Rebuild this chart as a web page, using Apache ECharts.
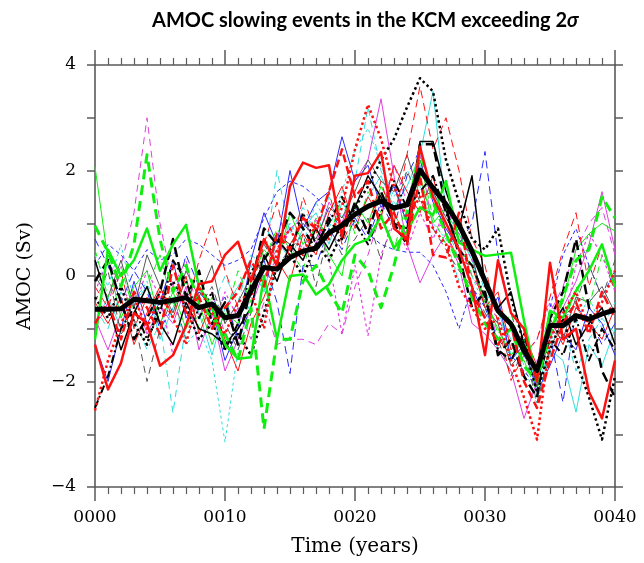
<!DOCTYPE html>
<html><head><meta charset="utf-8">
<script src="https://cdn.jsdelivr.net/npm/echarts@6/dist/echarts.min.js"></script>
<style>html,body{margin:0;padding:0;background:#fff}#c{width:644px;height:563px}</style>
</head><body><div id="c"></div>
<script>
// Years 0..40
const years = Array.from({length: 41}, (_, i) => i);
const xTickLabels = ['0000', '0010', '0020', '0030', '0040'];
const yTickLabels = ['−4', '−2', '0', '2', '4'];

// Ensemble members (values in Sv)
const redThickSolid   = [-1.3,-2.15,-1.65,-0.7,-0.9,-1.7,-1.5,-0.95,-0.15,-0.1,0.4,0.65,-0.1,0.7,0.2,1.7,2.15,2.05,2.1,0.75,1.9,1.95,2.35,0.9,0.7,2.45,1.5,1.0,0.5,-0.2,-1.5,0.3,-0.7,-1.0,-2.0,0.25,-1.2,-1.0,-2.2,-2.7,-1.6];
const redThickDashed  = [-0.9,-0.5,-1.2,-0.3,-0.6,-1.1,0.2,-0.7,-0.4,-1.0,-0.6,-0.3,0.3,-0.2,0.8,0.5,1.1,0.9,1.6,2.4,1.5,1.8,0.9,1.2,0.6,1.9,0.4,0.35,1.2,-0.3,-0.8,-1.3,-0.9,-2.0,-2.5,-1.6,-0.9,-0.5,-1.1,-0.3,-0.8];
const redThickDotted  = [-2.55,-1.6,-0.9,-0.4,-1.0,-0.3,-0.8,-1.3,-0.2,-0.7,-1.1,-0.5,-0.3,-1.0,0.5,0.9,0.4,1.0,0.7,1.3,2.4,3.25,2.6,1.7,1.1,1.5,0.9,0.6,-0.2,-0.6,-1.0,-0.8,-1.6,-2.3,-3.1,-1.2,-0.7,-0.3,-1.0,-0.5,0.1];
const redThinDashed   = [-0.2,-0.6,0.1,-1.0,-0.4,-0.9,-0.2,-0.7,0.3,1.0,0.1,-0.6,-0.3,0.6,1.4,0.3,1.5,0.8,1.6,0.6,1.2,0.9,1.8,1.0,2.3,3.6,2.4,3.0,2.0,0.7,0.2,-0.9,-1.98,-1.5,-1.2,-0.4,0.5,1.2,-0.2,0.6,-0.3];
const redThinSolid    = [-0.5,-0.9,-0.4,-1.3,-0.7,-0.2,-0.8,0.0,-1.1,-0.5,-1.2,-1.8,-0.9,-0.4,0.3,-0.1,0.8,0.4,1.2,1.7,0.9,1.5,1.1,2.1,1.6,1.2,1.9,0.8,0.3,0.2,-0.6,-0.3,-1.4,-1.1,-1.7,-0.8,-1.3,-0.6,-0.9,-1.2,-0.6];
const greenThickSolid = [-1.2,0.5,0.0,0.3,0.9,0.1,0.6,0.97,-0.2,-0.6,-1.3,-1.57,-1.54,0.0,-1.2,0.0,0.03,-0.35,-0.16,0.3,0.6,0.7,1.13,0.53,0.85,1.3,1.16,1.8,0.63,0.5,0.38,0.41,0.44,-0.85,-1.98,-0.66,-0.79,-0.28,0.1,0.6,-0.2];
const greenThickDashed= [0.95,0.45,-0.2,0.6,2.3,0.7,-0.3,0.2,-0.5,-0.8,-1.1,-1.6,-0.6,-2.9,-1.2,-1.2,-0.1,0.2,-0.3,-0.7,0.4,0.1,-0.6,0.2,1.2,2.4,1.4,0.8,0.2,-0.4,-0.9,-1.2,-1.0,-1.7,-2.0,-1.1,-0.4,0.3,0.5,1.5,1.1];
const greenThinSolid  = [2.07,0.3,-0.8,-0.2,0.1,-0.9,-0.3,-1.0,-0.5,-1.3,-0.7,-0.9,-0.1,0.5,0.2,1.2,0.6,0.9,0.4,0.0,1.4,1.0,1.7,1.2,0.7,1.9,1.0,1.3,0.5,0.2,-0.5,-1.0,-1.5,-1.2,-2.0,-1.0,-0.5,0.5,0.8,1.0,0.85];
const greenThinDashed = [0.5,-0.4,0.2,-0.7,-0.2,0.4,-0.6,-0.1,-1.0,-0.4,-0.8,0.1,-0.5,0.3,0.9,0.5,0.1,1.1,0.7,1.5,0.8,1.6,1.2,0.5,1.4,2.2,1.1,0.6,0.9,0.0,-0.3,-1.1,-0.7,-1.6,-2.2,-0.7,-1.0,-0.2,-0.6,0.4,-0.1];
const blackThickDotted= [-0.4,-0.8,-0.2,-0.9,-1.3,-0.5,-0.1,-0.6,-1.2,-0.9,-1.4,-1.1,-1.5,-0.7,0.2,0.4,0.0,0.6,0.3,0.8,1.3,1.7,2.2,2.6,3.2,3.75,3.5,2.2,1.4,0.7,0.5,0.9,-0.4,-1.3,-2.2,-1.4,-0.8,-1.6,-2.3,-3.1,-1.9];
const blackThickDashed= [-0.1,0.3,-0.5,-1.2,-0.8,-0.3,0.7,-0.4,0.1,-0.9,-0.5,-1.3,-0.2,0.9,0.6,1.2,0.9,0.5,1.1,0.7,1.4,0.8,1.6,1.0,0.6,2.5,2.5,1.3,0.4,-0.6,-0.3,-1.5,-1.2,-1.9,-2.3,-0.8,-0.3,0.7,-0.6,-1.8,-2.3];
const blackSolid      = [0.3,-0.5,-1.4,-0.7,-0.2,-0.9,-1.3,-0.5,-1.0,-1.1,-1.3,-1.0,-0.6,0.4,-0.1,0.6,0.3,0.9,0.5,1.0,1.3,1.9,1.5,1.0,0.9,2.55,2.55,1.6,0.9,1.9,-0.2,-0.6,-0.3,-1.3,-1.8,-1.0,-0.6,-1.3,-0.9,-0.6,-1.3];
const blackDashDot    = [-2.5,-1.9,-1.0,-0.6,-1.2,-0.7,0.3,-0.1,-0.8,-0.3,-1.4,-0.9,0.1,0.3,0.7,0.4,1.2,0.6,1.0,1.5,1.0,0.6,1.2,1.8,1.3,1.6,1.9,1.2,0.5,0.2,-0.4,-1.4,-1.6,-1.1,-2.0,-1.2,-1.5,-0.8,-1.6,-1.0,-1.4];
const grayThinSolid   = [0.0,-0.4,0.3,-0.6,0.4,-0.2,-0.7,0.1,-0.4,0.2,-0.9,-0.5,0.0,0.3,0.8,0.6,1.0,0.7,1.3,1.1,1.6,2.2,1.8,1.6,2.3,1.5,1.6,1.1,0.7,0.4,-0.6,-0.9,-1.7,-1.4,-2.1,-1.0,-1.2,-0.4,-0.5,-0.2,-0.7];
const grayThinDashed  = [-0.5,0.1,-1.1,-0.8,-2.0,-1.0,-0.4,-1.2,-0.6,-0.2,-0.9,-1.4,-0.7,0.6,0.2,0.5,0.8,-0.2,0.9,0.4,0.7,1.1,0.3,1.2,2.0,1.4,0.9,0.5,0.1,-0.2,-0.7,-1.2,-1.9,-1.4,-2.4,-1.4,-0.8,-0.5,0.2,-0.4,0.3];
const blueThinSolid   = [-1.3,-2.0,-1.0,-0.1,-0.9,-0.5,0.3,-0.8,-0.3,-0.6,-1.6,-1.0,0.3,1.2,0.6,2.0,0.9,1.4,1.6,2.64,1.8,2.1,1.3,1.7,1.0,2.2,1.4,0.9,0.5,-0.2,-0.8,-0.4,-1.6,-1.3,-2.2,-1.7,-1.1,-1.4,-0.6,-0.9,-1.5];
const blueThinDashed  = [0.7,0.2,-0.5,0.1,-0.3,-1.0,-0.6,0.4,-0.2,-0.7,-0.4,-1.2,-0.6,0.3,-0.5,-1.85,0.2,0.2,0.9,0.5,1.1,0.7,1.4,0.9,1.9,2.4,1.5,0.8,0.6,1.0,2.36,0.4,-0.7,-1.5,-2.0,-1.1,-2.4,-0.6,-0.8,-1.3,-0.9];
const blueShortDashed = [0.2,0.6,0.4,0.1,0.5,0.3,0.4,0.7,0.6,0.4,0.2,0.3,0.5,1.1,1.6,1.8,1.7,1.5,1.2,0.9,1.3,0.8,0.6,0.5,0.45,0.45,0.2,-0.3,-1.0,-0.2,-0.6,-1.2,-1.5,-1.8,-2.1,-0.6,0.4,0.9,0.2,-0.4,0.1];
const magentaDashed   = [-1.0,-0.5,0.2,1.2,3.0,1.0,-0.2,0.3,-0.8,-0.3,-1.1,-0.6,-1.2,-0.5,-1.3,-1.2,-1.2,-1.3,-0.9,-1.1,-0.2,0.4,1.2,2.1,1.4,2.3,0.9,1.0,0.6,0.0,-0.4,-1.2,-1.0,-1.9,-1.6,-0.7,-0.2,0.5,1.0,1.3,0.4];
const magentaSolid    = [-0.8,-1.4,-0.7,-0.3,-1.1,-0.6,-0.9,-0.2,-1.4,-0.7,-1.8,-1.2,-0.6,0.1,0.5,0.9,1.1,0.6,1.4,1.0,1.8,2.2,3.36,1.9,0.6,-0.13,0.4,0.8,0.2,-0.9,-1.1,-1.4,-1.8,-2.7,-2.0,-1.2,-0.6,-0.1,0.6,1.6,0.5];
const magentaDotted   = [-0.3,0.3,-0.2,-0.6,0.1,-0.4,-1.5,-0.9,-0.5,-1.0,-0.3,-0.8,-0.2,0.0,0.3,0.9,0.5,1.1,0.3,-1.1,0.2,-1.13,0.4,1.0,0.5,1.2,0.7,1.3,0.8,0.3,-0.5,-0.8,-1.3,-1.5,-1.2,-0.5,-1.0,0.2,0.8,0.4,-0.3];
const cyanDashed      = [-0.6,-1.0,-0.3,-0.8,-1.4,-0.9,-2.6,-0.9,-0.3,-0.6,0.0,-0.5,0.4,0.2,2.0,0.8,1.3,0.9,1.5,1.1,1.8,3.2,2.0,1.4,1.1,2.1,1.6,1.0,0.3,0.5,-0.3,-0.7,-1.2,-2.0,-2.4,-1.5,-0.9,-1.8,-1.2,-0.8,-1.1];
const cyanShortDashed = [0.4,-0.2,0.6,-0.5,-0.1,-0.9,-0.4,-1.3,-1.0,-1.6,-3.15,-1.4,-0.4,-0.9,0.4,1.0,0.6,1.4,0.9,1.6,2.4,2.8,2.1,1.5,2.0,1.7,1.0,0.7,-0.1,0.0,-0.6,-1.4,-1.0,-1.7,-2.4,-1.3,-0.6,-0.9,-0.4,-1.0,-0.5];
const cyanSolid       = [-0.9,-0.4,-1.0,-0.5,-0.2,-1.2,-0.6,-0.1,-0.7,-1.5,-0.6,-0.2,0.2,-0.3,0.7,0.3,0.9,1.2,0.6,1.4,1.0,1.5,1.9,1.3,1.7,2.3,3.5,1.2,0.8,0.3,-0.5,-0.6,-1.5,-1.2,-2.1,-1.4,-1.6,-2.58,-1.3,-1.7,-1.0];
// Ensemble mean
const ensembleMean    = [-0.63,-0.63,-0.62,-0.44,-0.47,-0.5,-0.46,-0.41,-0.6,-0.53,-0.79,-0.75,-0.28,0.16,0.13,0.35,0.47,0.53,0.82,0.96,1.17,1.32,1.42,1.29,1.35,2.01,1.67,1.36,0.97,0.47,-0.09,-0.66,-0.91,-1.42,-1.79,-0.94,-0.94,-0.75,-0.82,-0.72,-0.64];

// Styles (kept apart from the data)
const RED='#ff1010', GREEN='#10ee10', BLACK='#000000', GRAY='#555555', BLUE='#2a2aff', MAG='#e040e0', CYAN='#30dede';
const members = [
  [cyanSolid, CYAN, 1, 'solid'],
  [cyanShortDashed, CYAN, 1, [3,3]],
  [cyanDashed, CYAN, 1, [7,5]],
  [magentaDotted, MAG, 1.2, [3,3]],
  [magentaSolid, MAG, 1, 'solid'],
  [magentaDashed, MAG, 1, [7,5]],
  [blueShortDashed, BLUE, 1, [4,3]],
  [blueThinDashed, BLUE, 1, [8,5]],
  [blueThinSolid, BLUE, 1, 'solid'],
  [grayThinDashed, GRAY, 1, [7,5]],
  [grayThinSolid, GRAY, 1, 'solid'],
  [greenThinDashed, GREEN, 1, [7,5]],
  [greenThinSolid, GREEN, 1, 'solid'],
  [redThinSolid, RED, 1, 'solid'],
  [redThinDashed, RED, 1, [8,5]],
  [blackSolid, BLACK, 1.5, 'solid'],
  [blackDashDot, BLACK, 2, [8,3,2,3]],
  [blackThickDashed, BLACK, 2.5, [10,5]],
  [blackThickDotted, BLACK, 2.5, [2.5,3]],
  [greenThickDashed, GREEN, 3, [10,6]],
  [greenThickSolid, GREEN, 2.5, 'solid'],
  [redThickDotted, RED, 2.5, [2.5,3]],
  [redThickDashed, RED, 2.5, [8,4]],
  [redThickSolid, RED, 2.5, 'solid']
];

const series = members.map(([vals, color, width, type]) => ({
  type: 'line', showSymbol: false, symbol: 'none', silent: true,
  data: vals.map((v, i) => [years[i], v]),
  lineStyle: { color, width, type, cap: 'butt', join: 'round' }
}));
series.push({
  type: 'line', showSymbol: false, symbol: 'none', silent: true,
  data: ensembleMean.map((v, i) => [years[i], v]),
  lineStyle: { color: '#000', width: 5, join: 'round' }
});

const AX = '#5a5a5a';
const serif = 'DejaVu Serif';
const chart = echarts.init(document.getElementById('c'), null, { renderer: 'canvas' });
chart.setOption({
  animation: false,
  backgroundColor: '#fff',
  title: {
    text: '{a|AMOC slowing events in the KCM exceeding 2}{b|σ}',
    left: 147, top: 6,
    textStyle: {
      rich: {
        a: { fontFamily: 'Lato', fontWeight: 'bold', fontSize: 20, color: '#000' },
        b: { fontFamily: 'Lato', fontWeight: 'bold', fontStyle: 'italic', fontSize: 20, color: '#000' }
      }
    }
  },
  grid: { left: 95, right: 29, top: 65, bottom: 76 },
  xAxis: [{
    type: 'value', min: 0, max: 40, interval: 10, position: 'bottom',
    name: 'Time (years)', nameLocation: 'middle', nameGap: 50,
    nameTextStyle: { fontFamily: serif, fontSize: 20, color: '#000' },
    axisLine: { show: true, onZero: false, lineStyle: { color: AX, width: 1.6 } },
    axisTick: { show: true, length: 14, lineStyle: { color: AX, width: 1.5 } },
    minorTick: { show: true, splitNumber: 10, length: 7, lineStyle: { color: AX, width: 1.2 } },
    axisLabel: { margin: 22, fontFamily: serif, fontSize: 17, color: '#000',
      formatter: v => xTickLabels[Math.round(v / 10)] },
    splitLine: { show: false }
  }, {
    type: 'value', min: 0, max: 40, interval: 10, position: 'top',
    axisLine: { show: true, onZero: false, lineStyle: { color: AX, width: 1.6 } },
    axisTick: { show: true, length: 15, lineStyle: { color: AX, width: 1.5 } },
    minorTick: { show: true, splitNumber: 10, length: 7, lineStyle: { color: AX, width: 1.2 } },
    axisLabel: { show: false }, splitLine: { show: false }
  }],
  yAxis: [{
    type: 'value', min: -4, max: 4, interval: 2, position: 'left',
    name: 'AMOC (Sv)', nameLocation: 'middle', nameGap: 60,
    nameTextStyle: { fontFamily: serif, fontSize: 19, color: '#000' },
    axisLine: { show: true, onZero: false, lineStyle: { color: AX, width: 1.6 } },
    axisTick: { show: true, length: 8, lineStyle: { color: AX, width: 1.5 } },
    minorTick: { show: true, splitNumber: 2, length: 8, lineStyle: { color: AX, width: 1.5 } },
    axisLabel: { margin: 19, fontFamily: serif, fontSize: 17, color: '#000',
      formatter: v => yTickLabels[Math.round((v + 4) / 2)] },
    splitLine: { show: false }
  }, {
    type: 'value', min: -4, max: 4, interval: 1, position: 'right',
    axisLine: { show: true, onZero: false, lineStyle: { color: AX, width: 1.6 } },
    axisTick: { show: true, length: 8, lineStyle: { color: AX, width: 1.5 } },
    axisLabel: { show: false }, splitLine: { show: false }
  }],
  series: series
});
</script>
</body></html>
